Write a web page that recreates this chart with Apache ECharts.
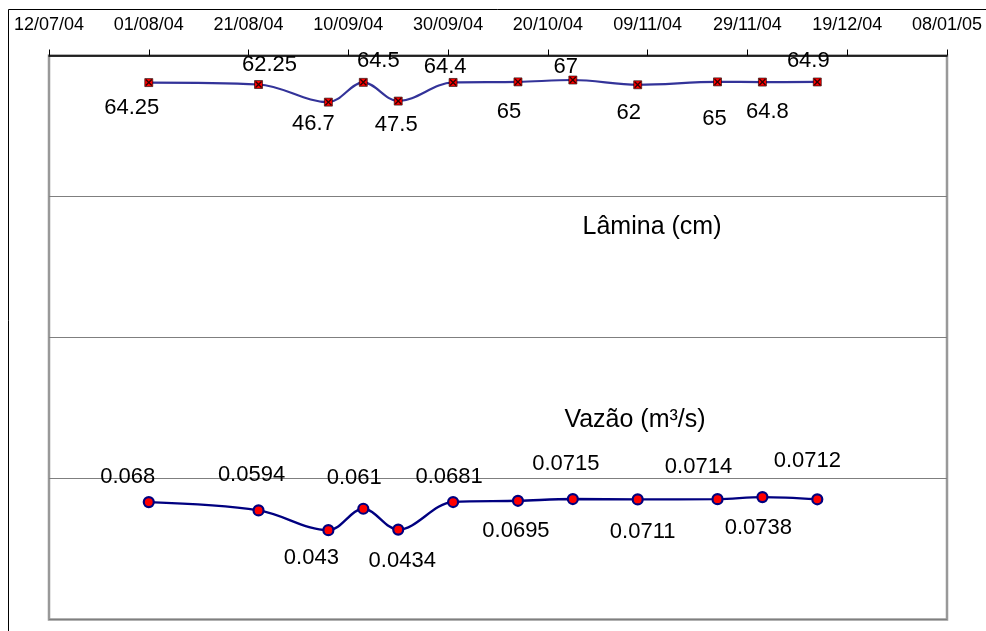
<!DOCTYPE html>
<html>
<head>
<meta charset="utf-8">
<script src="https://cdn.jsdelivr.net/npm/echarts@6/dist/echarts.min.js"></script>
<style>
  html, body { margin: 0; padding: 0; background: #fff; }
  #chart { width: 986px; height: 631px; }
</style>
</head>
<body>
<div id="chart"></div>
<script>
// Sampling dates (dd/mm/yy on the axis)
const dates = ['2004-08-01', '2004-08-23', '2004-09-06', '2004-09-13', '2004-09-20', '2004-10-01',
               '2004-10-14', '2004-10-25', '2004-11-07', '2004-11-23', '2004-12-02', '2004-12-13'];

// Lâmina (cm)
const lamina = [64.25, 62.25, 46.7, 64.5, 47.5, 64.4, 65, 67, 62, 65, 64.8, 64.9];

// Vazão (m³/s)
const vazao = [0.068, 0.0594, 0.043, 0.061, 0.0434, 0.0681, 0.0695, 0.0715, 0.0711, 0.0714, 0.0738, 0.0712];

// Axis range: 12/07/04 to 08/01/05, a tick every 20 days
const axisStart = '2004-07-12';
const axisDays = 180;
const tickDays = 20;

// Where each value label sits relative to its point (px)
const laminaLabelOffsets = [[-17, 25.5], [11, -19.5], [-15, 22], [15, -21], [-2, 24], [-8, -16],
                            [-9, 30], [-7, -13.5], [-9, 28], [-3, 37], [5, 30], [-9, -21.5]];
const vazaoLabelOffsets = [[-21, -25], [-7, -35], [-17, 28], [-9, -31], [4, 31], [-4, -25],
                           [-2, 30], [-7, -35], [5, 33], [-19, -32], [-4, 30.5], [-10, -38]];

const DAY = 86400000;
const t0 = Date.parse(axisStart);
const dayOf = s => Math.round((Date.parse(s) - t0) / DAY);
const pad = n => (n < 10 ? '0' : '') + n;
const fmtDay = d => {
  const dt = new Date(t0 + d * DAY);
  return pad(dt.getUTCDate()) + '/' + pad(dt.getUTCMonth() + 1) + '/' + pad(dt.getUTCFullYear() % 100);
};

const FONT = 'Liberation Sans, Arial, Helvetica, sans-serif';

const laminaData = dates.map((d, i) => ({
  value: [dayOf(d), lamina[i]],
  label: { offset: laminaLabelOffsets[i] }
}));
const vazaoData = dates.map((d, i) => ({
  value: [dayOf(d), vazao[i]],
  label: { offset: vazaoLabelOffsets[i] }
}));
const laminaCross = dates.map((d, i) => [dayOf(d), lamina[i]]);

const valueLabel = {
  show: true,
  position: 'inside',
  color: '#000',
  fontFamily: FONT,
  fontSize: 22,
  align: 'center',
  verticalAlign: 'middle',
  formatter: p => String(p.value[1])
};

const chart = echarts.init(document.getElementById('chart'), null, { renderer: 'canvas' });

chart.setOption({
  backgroundColor: '#fff',
  animation: false,
  grid: {
    left: 49, right: 39, top: 55.5, bottom: 11.5,
    show: true, borderColor: '#999999', borderWidth: 2.5, backgroundColor: 'transparent'
  },
  xAxis: {
    type: 'value',
    position: 'top',
    min: 0,
    max: axisDays,
    interval: tickDays,
    axisLine: { show: true, lineStyle: { color: '#000', width: 1.5 } },
    axisTick: { show: true, length: 6, lineStyle: { color: '#000', width: 1 } },
    axisLabel: {
      show: true, margin: 21, color: '#000', fontFamily: FONT, fontSize: 18,
      formatter: v => fmtDay(v)
    },
    splitLine: { show: false }
  },
  yAxis: {
    type: 'log',
    logBase: 10,
    min: 0.01,
    max: 100,
    axisLine: { show: false },
    axisTick: { show: false },
    axisLabel: { show: false },
    splitLine: { show: true, lineStyle: { color: '#7f7f7f', width: 1 } }
  },
  graphic: [
    {
      type: 'rect', z: -10, silent: true,
      shape: { x: 8.5, y: 9.5, width: 1200, height: 800 },
      style: { fill: 'none', stroke: '#000', lineWidth: 1 }
    },
    {
      type: 'text', x: 652, y: 227,
      style: { text: 'Lâmina (cm)', font: '25px ' + FONT, fill: '#000', textAlign: 'center', textVerticalAlign: 'middle' }
    },
    {
      type: 'text', x: 635, y: 420,
      style: { text: 'Vazão (m³/s)', font: '25px ' + FONT, fill: '#000', textAlign: 'center', textVerticalAlign: 'middle' }
    }
  ],
  series: [
    {
      name: 'Lâmina (cm)',
      type: 'line',
      data: laminaData,
      smooth: 0.35,
      symbol: 'rect',
      symbolSize: 8,
      showAllSymbol: true,
      lineStyle: { color: '#333399', width: 2.2 },
      itemStyle: { color: '#ff0000', borderColor: '#000', borderWidth: 0.6 },
      label: valueLabel,
      z: 3
    },
    {
      name: 'Lâmina marca',
      type: 'scatter',
      data: laminaCross,
      symbol: 'path://M0,1.4L1.4,0L5,3.6L8.6,0L10,1.4L6.4,5L10,8.6L8.6,10L5,6.4L1.4,10L0,8.6L3.6,5Z',
      symbolSize: 7,
      itemStyle: { color: '#000' },
      silent: true,
      z: 4
    },
    {
      name: 'Vazão (m³/s)',
      type: 'line',
      data: vazaoData,
      smooth: 0.35,
      symbol: 'circle',
      symbolSize: 10,
      showAllSymbol: true,
      lineStyle: { color: '#000080', width: 2.4 },
      itemStyle: { color: '#ff0000', borderColor: '#000080', borderWidth: 2.2 },
      label: valueLabel,
      z: 3
    }
  ]
});
</script>
</body>
</html>
